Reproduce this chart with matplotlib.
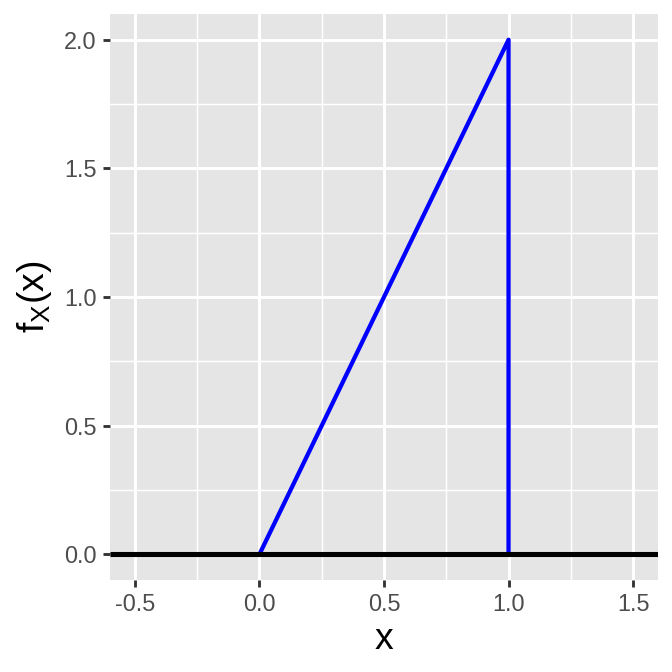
import numpy as np
import matplotlib
matplotlib.use("Agg")
import matplotlib.pyplot as plt
from matplotlib.ticker import MultipleLocator

plt.rcParams['font.family'] = ['Liberation Sans', 'DejaVu Sans']
plt.rcParams['mathtext.fontset'] = 'custom'
plt.rcParams['mathtext.rm'] = 'Liberation Sans'
plt.rcParams['mathtext.it'] = 'Liberation Sans'

# density f_X(x) = 2x on [0, 1]
dens_x = [0.0, 1.0, 1.0]
dens_y = [0.0, 2.0, 0.0]
# zero line across the whole range
base_x = [-0.6, 1.6]
base_y = [0.0, 0.0]

xticks = [-0.5, 0.0, 0.5, 1.0, 1.5]
yticks = [0.0, 0.5, 1.0, 1.5, 2.0]

fig = plt.figure(figsize=(3.5, 3.5), dpi=192)
ax = fig.add_axes([110/672, 1-580/672, 548/672, 566/672])
ax.set_facecolor('#E5E5E5')

ax.plot(dens_x, dens_y, color='blue', lw=1.6, solid_capstyle='butt', zorder=3)
ax.plot(base_x, base_y, color='black', lw=1.9, solid_capstyle='butt', zorder=4)

ax.set_xlim(-0.6, 1.6)
ax.set_ylim(-0.1, 2.1)
ax.set_xticks(xticks)
ax.set_yticks(yticks)
ax.set_xticklabels([f"{v:.1f}" for v in xticks])
ax.set_yticklabels([f"{v:.1f}" for v in yticks])
ax.xaxis.set_minor_locator(MultipleLocator(0.25))
ax.yaxis.set_minor_locator(MultipleLocator(0.25))
ax.grid(which='major', color='white', lw=1.1)
ax.grid(which='minor', color='white', lw=0.55)
ax.set_axisbelow(True)
ax.tick_params(which='major', length=2.75, width=1.07, color='#333333',
               labelsize=8.8, labelcolor='#4D4D4D', pad=2.2)
ax.tick_params(which='minor', length=0)
for s in ax.spines.values():
    s.set_visible(False)

ax.set_xlabel('x', fontsize=14, labelpad=2)
ax.set_ylabel(r'f$_{\mathregular{X}}$(x)', fontsize=14, labelpad=4)

fig.savefig('out.png', dpi=192)
